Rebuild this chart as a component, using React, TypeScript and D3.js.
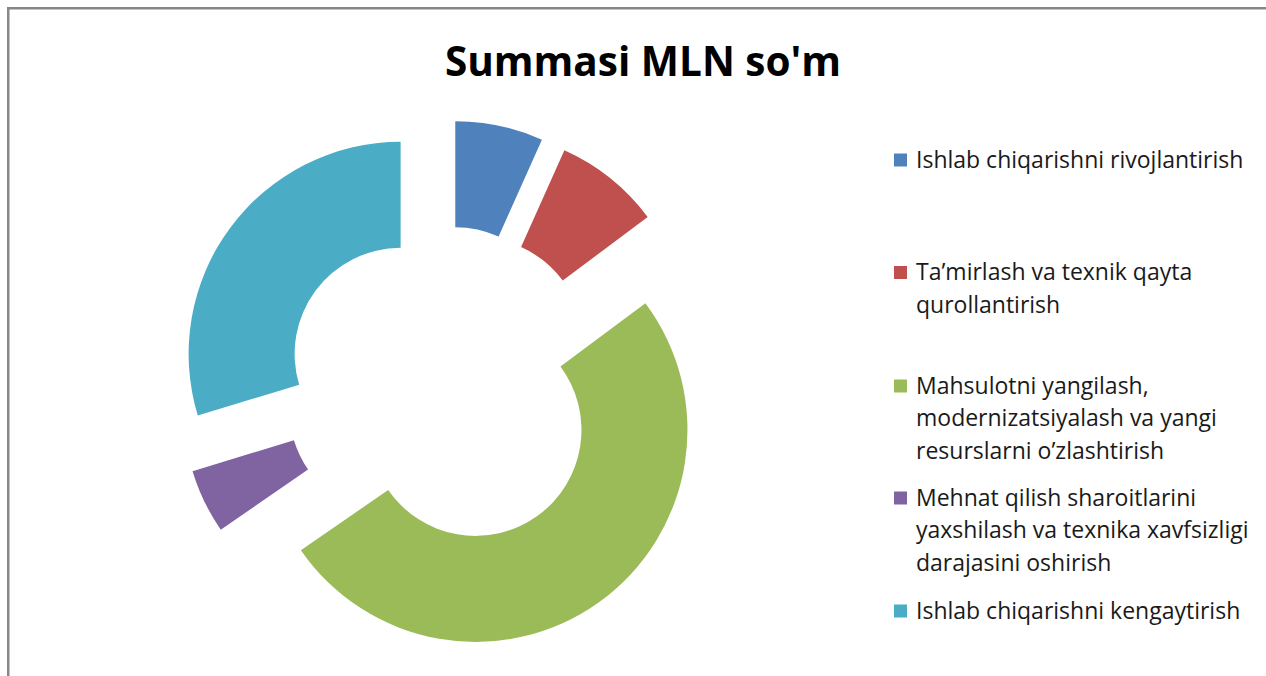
import React, { useEffect, useRef } from 'react';
import * as d3 from 'd3';

// chart data
const categories = [
  'Ishlab chiqarishni rivojlantirish',
  'Ta’mirlash va texnik qayta qurollantirish',
  'Mahsulotni yangilash, modernizatsiyalash va yangi resurslarni o’zlashtirish',
  'Mehnat qilish sharoitlarini yaxshilash va texnika xavfsizligi darajasini oshirish',
  'Ishlab chiqarishni kengaytirish',
];
const legendLines = [
  ['Ishlab chiqarishni rivojlantirish'],
  ['Ta’mirlash va texnik qayta', 'qurollantirish'],
  ['Mahsulotni yangilash,', 'modernizatsiyalash va yangi', 'resurslarni o’zlashtirish'],
  ['Mehnat qilish sharoitlarini', 'yaxshilash va texnika xavfsizligi', 'darajasini oshirish'],
  ['Ishlab chiqarishni kengaytirish'],
];
const values = [6.7, 8.1, 50.6, 4.9, 29.7];
const colors = ['#4F81BD', '#C0504D', '#9BBB59', '#8064A2', '#4BACC6'];
const title = "Summasi MLN so'm";

const W = 1266, H = 676;

export default function App() {
  const ref = useRef<SVGSVGElement>(null);

  useEffect(() => {
    const svg = d3.select(ref.current);
    svg.selectAll('*').remove();

    // chart frame (right and bottom edges lie outside the picture)
    svg.append('rect')
      .attr('x', 8.25).attr('y', 8.25)
      .attr('width', W + 20).attr('height', H + 20)
      .attr('fill', '#fff')
      .attr('stroke', '#878787')
      .attr('stroke-width', 2.5);

    svg.append('text')
      .attr('x', 643).attr('y', 76)
      .attr('text-anchor', 'middle')
      .style('font-family', '"Open Sans", sans-serif')
      .style('font-weight', 'bold')
      .style('font-size', '40.5px')
      .attr('fill', '#000')
      .text(title);

    // exploded doughnut
    const cx = 444, cy = 386, R = 212, r = 106, explode = 54;
    const pie = d3.pie<number>().sort(null).startAngle(0).endAngle(2 * Math.PI);
    const arc = d3.arc<d3.PieArcDatum<number>>().innerRadius(r).outerRadius(R);

    const g = svg.append('g').attr('transform', `translate(${cx}, ${cy})`);
    g.selectAll('path')
      .data(pie(values))
      .join('path')
      .attr('d', arc)
      .attr('fill', (d, i) => colors[i])
      .attr('transform', d => {
        const mid = (d.startAngle + d.endAngle) / 2;
        return `translate(${explode * Math.sin(mid)}, ${-explode * Math.cos(mid)})`;
      });

    // legend
    const lineCenters = [[160], [272.5, 305], [386, 418.5, 451], [498, 530.5, 563], [611]];
    const legend = svg.append('g');
    categories.forEach((c, i) => {
      const item = legend.append('g').attr('class', 'legend_item');
      item.append('rect')
        .attr('x', 894).attr('y', lineCenters[i][0] - 6.5)
        .attr('width', 13).attr('height', 13)
        .attr('fill', colors[i]);
      legendLines[i].forEach((line, j) => {
        item.append('text')
          .attr('x', 916).attr('y', lineCenters[i][j] + 7.5)
          .style('font-family', '"Open Sans", sans-serif')
          .style('font-size', '23px')
          .attr('fill', '#1a1a1a')
          .text(line);
      });
    });
  }, []);

  return (
    <svg ref={ref} width={W} height={H}
      style={{ position: 'absolute', left: 0, top: 0, display: 'block', background: '#fff' }} />
  );
}
